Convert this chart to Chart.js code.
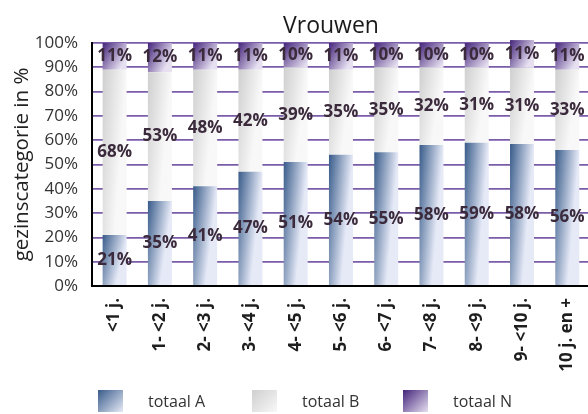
<!DOCTYPE html>
<html>
<head>
<meta charset="utf-8">
<script src="https://cdn.jsdelivr.net/npm/chart.js@4.4.0/dist/chart.umd.min.js"></script>
<style>
body { margin: 0; overflow: hidden; background: #fff; font-family: "Open Sans", sans-serif; }
#wrap { position: relative; width: 600px; height: 414px; }
.lg-box { position: absolute; top: 390px; width: 25px; height: 22px; }
.lg-txt { position: absolute; top: 390px; line-height: 22px; font-size: 16px; color: #333; }
</style>
</head>
<body>
<div id="wrap">
  <canvas id="chart-area"></canvas>
</div>
<script>
var categories = ['<1 j.', '1- <2 j.', '2- <3 j.', '3- <4 j.', '4- <5 j.', '5- <6 j.', '6- <7 j.', '7- <8 j.', '8- <9 j.', '9- <10 j.', '10 j. en +'];
var totaalA = [21, 35, 41, 47, 51, 54, 55, 58, 59, 58.4, 56];
var totaalB = [68, 53, 48, 42, 39, 35, 35, 32, 31, 31.4, 33];
var totaalN = [11, 12, 11, 11, 10, 11, 10, 10, 10, 11.4, 11];
var seriesNames = ['totaal A', 'totaal B', 'totaal N'];
var yTicks = [0, 10, 20, 30, 40, 50, 60, 70, 80, 90, 100];

var series = [totaalA, totaalB, totaalN];
var gradColors = [['#385b8a', '#e6eaf7'], ['#cfcfcf', '#f8f8f8'], ['#44247a', '#e6e0f1']];

// diagonal-ish gradient per bar segment
function segGrad(colors) {
    return function(c) {
        if (c.type !== 'data') return colors[0];
        var chart = c.chart, xs = chart.scales.x, ys = chart.scales.y;
        if (!xs || !ys || !chart.chartArea) return colors[0];
        var i = c.dataIndex, d = c.datasetIndex;
        var base = 0;
        for (var k = 0; k < d; k++) base += series[k][i];
        var top = base + series[d][i];
        var x = xs.getPixelForValue(i);
        var w = (xs.width / categories.length) * 0.53;
        var yT = ys.getPixelForValue(top), yB = ys.getPixelForValue(base);
        var h = yB - yT;
        var tilt = h > w ? h - Math.sqrt(h * h - w * w) : h;
        var g = chart.ctx.createLinearGradient(x - w / 2, yT, x + w / 2, yT + tilt);
        g.addColorStop(0, colors[0]);
        g.addColorStop(1, colors[1]);
        return g;
    };
}

var valueLabels = {
    id: 'valueLabels',
    afterDatasetsDraw: function(chart) {
        var ctx = chart.ctx;
        ctx.save();
        ctx.font = 'bold 17px "Open Sans"';
        ctx.fillStyle = '#3b2a3b';
        ctx.textAlign = 'center';
        ctx.textBaseline = 'middle';
        chart.data.datasets.forEach(function(ds, d) {
            chart.getDatasetMeta(d).data.forEach(function(bar, i) {
                ctx.fillText(Math.round(ds.data[i]) + '%', bar.x, (bar.y + bar.base) / 2);
            });
        });
        ctx.restore();
    }
};

var chartTitle = {
    id: 'chartTitle',
    afterDraw: function(chart) {
        var ctx = chart.ctx;
        ctx.save();
        ctx.font = '23px "Open Sans"';
        ctx.fillStyle = '#1a1a1a';
        ctx.textAlign = 'center';
        ctx.textBaseline = 'alphabetic';
        ctx.fillText('Vrouwen', 331, 33);
        ctx.restore();
    }
};

var datasets = series.map(function(vals, d) {
    return {
        label: seriesNames[d],
        data: vals,
        backgroundColor: segGrad(gradColors[d]),
        borderWidth: 0,
        barPercentage: 0.53,
        categoryPercentage: 1,
        clip: false
    };
});

var ctx = document.getElementById('chart-area').getContext('2d');
var myChart = new Chart(ctx, {
    type: 'bar',
    data: { labels: categories, datasets: datasets },
    options: {
        responsive: true,
        maintainAspectRatio: false,
        animation: false,
        layout: { padding: { top: 43, right: 7, left: 0, bottom: 0 } },
        plugins: {
            legend: { display: false },
            tooltip: { enabled: false },
            title: { display: false }
        },
        scales: {
            x: {
                stacked: true,
                grid: { display: false, drawTicks: false },
                border: { color: '#000', width: 2 },
                ticks: {
                    minRotation: 90, maxRotation: 90, padding: 12, autoSkip: false,
                    color: '#1e1e1e',
                    font: { family: 'Open Sans', size: 17, weight: 'bold' }
                },
                afterFit: function(s) { s.height = 128; }
            },
            y: {
                stacked: true,
                min: 0, max: 100,
                afterBuildTicks: function(s) { s.ticks = yTicks.map(function(v) { return { value: v }; }); },
                ticks: {
                    padding: 14,
                    color: '#333',
                    font: { family: 'Open Sans', size: 17 },
                    callback: function(v) { return v + '%'; }
                },
                grid: { color: '#7a5ca9', lineWidth: 1.8, drawTicks: false },
                border: { color: '#000', width: 2 },
                title: {
                    display: true, text: 'gezinscategorie in %', color: '#222',
                    font: { family: 'Open Sans', size: 20.5 },
                    padding: { top: 10, bottom: 0 }
                },
                afterFit: function(s) { s.width = 92; }
            }
        }
    },
    plugins: [valueLabels, chartTitle]
});

// legend below the chart
var wrap = document.getElementById('wrap');
var lgLeft = [98, 252, 403];
seriesNames.forEach(function(name, d) {
    var box = document.createElement('div');
    box.className = 'lg-box';
    box.style.left = lgLeft[d] + 'px';
    box.style.background = 'linear-gradient(135deg, ' + gradColors[d][0] + ', ' + gradColors[d][1] + ')';
    wrap.appendChild(box);
    var txt = document.createElement('div');
    txt.className = 'lg-txt';
    txt.style.left = (lgLeft[d] + 50) + 'px';
    txt.textContent = name;
    wrap.appendChild(txt);
});
</script>
</body>
</html>
